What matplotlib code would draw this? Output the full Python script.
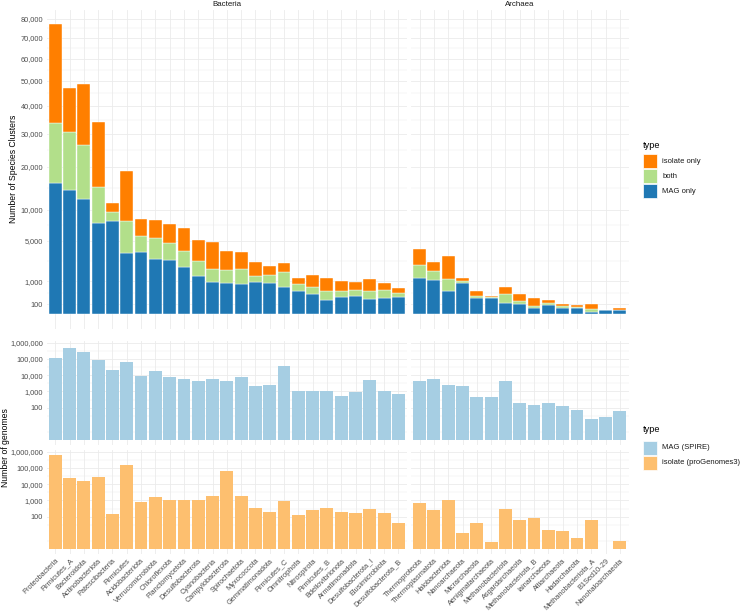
import numpy as np
import matplotlib
matplotlib.use("Agg")
import matplotlib.pyplot as plt
from matplotlib.patches import Rectangle
from matplotlib.ticker import FuncFormatter, FixedLocator

plt.rcParams["font.family"] = ["Liberation Sans", "DejaVu Sans"]

# ---- data -------------------------------------------------------------
bacteria = ["Proteobacteria", "Firmicutes_A", "Bacteroidota", "Actinobacteriota",
            "Patescibacteria", "Firmicutes", "Acidobacteriota", "Verrucomicrobiota",
            "Chloroflexota", "Planctomycetota", "Desulfobacterota", "Cyanobacteria",
            "Campylobacterota", "Spirochaetota", "Myxococcota", "Gemmatimonadota",
            "Firmicutes_C", "Omnitrophota", "Nitrospirota", "Firmicutes_B",
            "Bdellovibrionota", "Armatimonadota", "Desulfobacterota_I",
            "Elusimicrobiota", "Desulfobacterota_B"]
archaea = ["Thermoproteota", "Thermoplasmatota", "Halobacteriota", "Nanoarchaeota",
           "Micrarchaeota", "Aenigmatarchaeota", "Methanobacteriota", "Asgardarchaeota",
           "Methanobacteriota_B", "Iainarchaeota", "Altiarchaeota", "Hadarchaeota",
           "Methanobacteriota_A", "B1Sed10-29", "Nanohaloarchaeota"]

# species clusters (top panel)
bac_mag_only = [15910, 14130, 12150, 7620, 8060, 3465, 3577, 2790, 2720, 2040,
                1357, 950, 908, 852, 967, 891, 708, 519, 374, 201, 280, 313, 220, 240, 280]
bac_both = [17570, 16470, 14070, 7270, 1505, 4545, 2023, 2527, 1920, 1620,
            1293, 920, 889, 1018, 390, 516, 923, 316, 303, 305, 226, 250, 299, 310, 143]
bac_isolate_only = [43640, 16260, 22570, 19040, 1755, 10850, 2750, 2808, 2910, 3140,
                    2475, 2985, 1893, 1707, 1138, 720, 798, 405, 773, 714, 540, 422, 616, 341, 206]

arc_mag_only = [1207, 1077, 523, 932, 243, 262, 117, 109, 44, 90, 36, 36, 6, 22, 17]
arc_both = [1046, 664, 657, 120, 84, 3, 260, 60, 24, 33, 27, 21, 20, 0, 2]
arc_isolate_only = [1652, 764, 1933, 155, 196, 52, 321, 231, 175, 80, 34, 22, 77, 0, 21]

# number of genomes (bottom panels)
bac_mag_genomes = [110000, 452000, 257000, 89000, 21900, 65000, 8540, 18100, 7760, 5860,
                   4190, 5860, 4370, 7760, 2160, 2500, 35200, 1020, 1120, 1120,
                   525, 930, 4880, 1070, 725]
bac_isolate_genomes = [630000, 24000, 16500, 29000, 140, 146000, 840, 1630, 1020, 1020,
                       1020, 1950, 65000, 1950, 357, 203, 966, 133, 270, 330,
                       195, 177, 310, 170, 43]
arc_mag_genomes = [4190, 6130, 2400, 2160, 436, 436, 4370, 195, 140, 187, 127, 69, 20, 27, 63]
arc_isolate_genomes = [665, 258, 1070, 9.5, 39, 2.9, 310, 63, 83, 15, 12.6, 4.9, 60, 0, 3]

cluster_types = ["isolate only", "both", "MAG only"]
cluster_colors = {"isolate only": "#FF7F00", "both": "#B2DF8A", "MAG only": "#1F78B4"}
genome_types = ["MAG (SPIRE)", "isolate (proGenomes3)"]
genome_colors = {"MAG (SPIRE)": "#A6CEE3", "isolate (proGenomes3)": "#FDBF6F"}

cluster_ticks = [100, 1000, 5000, 10000, 20000, 30000, 40000, 50000, 60000, 70000, 80000]
genome_ticks = [100, 1000, 10000, 100000, 1000000]

# ---- layout (pixels) --------------------------------------------------
W, H = 742, 615
fig = plt.figure(figsize=(W / 100, H / 100), dpi=100)

GRID = "#EBEBEB"
TXT = "#4D4D4D"
TICK_FS = 5.3


def px_axes(x0, x1, y0, y1):
    return fig.add_axes([x0 / W, 1 - y1 / H, (x1 - x0) / W, (y1 - y0) / H])


def sqrt_fwd(y):
    y = np.asarray(y, dtype=float)
    return np.sign(y) * np.sqrt(np.abs(y))


def sqrt_inv(y):
    y = np.asarray(y, dtype=float)
    return np.sign(y) * y ** 2


comma = FuncFormatter(lambda v, p: f"{int(round(v)):,}")


def style(ax, n, yticks, labels_y):
    ax.set_xlim(-0.6, n - 0.4)
    for s in ax.spines.values():
        s.set_visible(False)
    ax.set_axisbelow(True)
    ax.set_xticks(np.arange(n))
    ax.grid(True, which="major", color=GRID, linewidth=0.6)
    ax.grid(True, which="minor", axis="y", color=GRID, linewidth=0.3)
    ax.yaxis.set_major_locator(FixedLocator(yticks))
    ax.yaxis.set_major_formatter(comma)
    ax.tick_params(length=0, pad=2.5, labelsize=TICK_FS, labelcolor=TXT, which="both")
    if not labels_y:
        ax.tick_params(labelleft=False)


x_bac = (46.7, 407.0)
x_arc = (411.0, 628.5)
y_top = (9.8, 329.0)
y_mag = (341.2, 444.9)
y_iso = (450.2, 553.9)

panels = [
    (bacteria, bac_mag_only, bac_both, bac_isolate_only, bac_mag_genomes, bac_isolate_genomes, x_bac, "Bacteria", True),
    (archaea, arc_mag_only, arc_both, arc_isolate_only, arc_mag_genomes, arc_isolate_genomes, x_arc, "Archaea", False),
]

sq_minor = []
for a, b in zip(cluster_ticks[:-1], cluster_ticks[1:]):
    sq_minor.append(((np.sqrt(a) + np.sqrt(b)) / 2) ** 2)
log_minor = [10 ** (k + 0.5) for k in range(0, 6)]

for names, mag, both, iso, g_mag, g_iso, xr, title, first in panels:
    n = len(names)
    x = np.arange(n)
    mag = np.array(mag, float)
    both = np.array(both, float)
    iso = np.array(iso, float)

    # top: stacked species clusters on sqrt scale
    ax = px_axes(xr[0], xr[1], *y_top)
    ax.set_yscale("function", functions=(sqrt_fwd, sqrt_inv))
    ax.bar(x, mag, width=0.9, color=cluster_colors["MAG only"], edgecolor="white", linewidth=0.3)
    ax.bar(x, both, bottom=mag, width=0.9, color=cluster_colors["both"], edgecolor="white", linewidth=0.3)
    ax.bar(x, iso, bottom=mag + both, width=0.9, color=cluster_colors["isolate only"], edgecolor="white", linewidth=0.3)
    ax.set_ylim(-193, 85031)
    style(ax, n, cluster_ticks, first)
    ax.yaxis.set_minor_locator(FixedLocator(sq_minor))
    ax.tick_params(labelbottom=False)
    ax.set_title(title, fontsize=5.7, color="#1A1A1A", pad=2.5)

    # bottom: genomes, log scale
    for yr, vals, key, last in [(y_mag, g_mag, "MAG (SPIRE)", False),
                                (y_iso, g_iso, "isolate (proGenomes3)", True)]:
        axg = px_axes(xr[0], xr[1], *yr)
        axg.set_yscale("log")
        vals = np.array(vals, float)
        keep = vals > 0
        axg.bar(x[keep], vals[keep] - 1, bottom=1, width=0.9, color=genome_colors[key])
        axg.set_ylim(10 ** -0.29, 10 ** 6.09)
        style(axg, n, genome_ticks, first)
        axg.yaxis.set_minor_locator(FixedLocator(log_minor))
        if last:
            axg.set_xticklabels(names, rotation=45, ha="right", va="top",
                                rotation_mode="anchor", fontsize=TICK_FS, color=TXT)
        else:
            axg.tick_params(labelbottom=False)

# axis titles
fig.text(13.5 / W, 1 - 169 / H, "Number of Species Clusters", rotation=90,
         ha="center", va="center", fontsize=6.2)
fig.text(5.5 / W, 1 - 447.5 / H, "Number of genomes", rotation=90,
         ha="center", va="center", fontsize=6.2)


# legends, drawn by hand in pixel positions
def legend(x0, y_title, y_key0, labels, colors):
    fig.text(x0 / W, 1 - y_title / H, "type", ha="left", va="center", fontsize=6.6)
    for i, lab in enumerate(labels):
        y = y_key0 + i * 15
        fig.add_artist(Rectangle((x0 / W, 1 - (y + 14) / H), 14 / W, 14 / H,
                                 transform=fig.transFigure, facecolor=colors[lab],
                                 edgecolor="white", linewidth=0.5))
        fig.text((x0 + 19.5) / W, 1 - (y + 7) / H, lab, ha="left", va="center",
                 fontsize=5.5, color="#1A1A1A")


legend(642.7, 145, 154.3, cluster_types, cluster_colors)
legend(642.7, 430, 440.7, genome_types, genome_colors)

fig.savefig("out.png", dpi=100)
